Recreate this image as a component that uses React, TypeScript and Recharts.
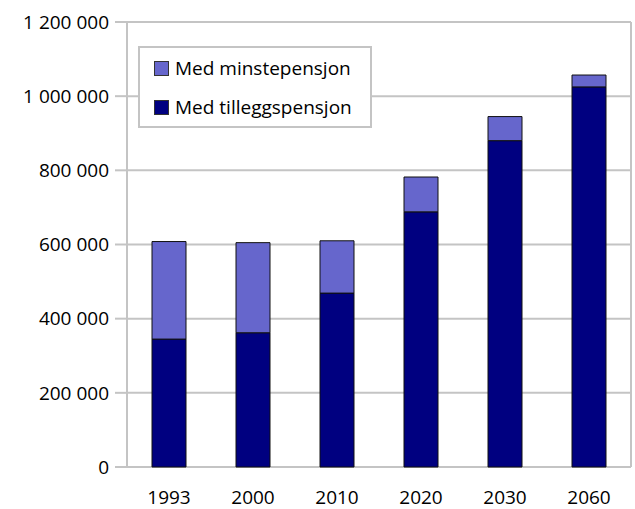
import React from 'react';
import { BarChart, Bar, XAxis, YAxis, CartesianGrid, Legend } from 'recharts';

const years = ['1993', '2000', '2010', '2020', '2030', '2060'];
const tilleggspensjon = [345000, 362000, 469000, 688000, 880000, 1025000];
const minstepensjon = [263000, 243000, 141000, 94000, 65000, 32000];
const yTicks = [0, 200000, 400000, 600000, 800000, 1000000, 1200000];
const boundaryTicks = [0, 1, 2, 3, 4, 5, 6];

const data = years.map((y, i) => ({
  year: y,
  tillegg: tilleggspensjon[i],
  minste: minstepensjon[i],
}));

const FONT = '"Open Sans", sans-serif';
const GRID = '#c4c4c4';

const fmt = (v: number) => String(v).replace(/\B(?=(\d{3})+(?!\d))/g, ' ');

const LegendBox = (props: any) => {
  const all = props.payload || [];
  const items = [
    ...all.filter((p: any) => p.dataKey === 'minste'),
    ...all.filter((p: any) => p.dataKey !== 'minste'),
  ];
  return (
    <div
      style={{
        width: 230,
        height: 78,
        border: `2px solid ${GRID}`,
        background: '#fff',
        fontFamily: FONT,
        fontSize: 19,
        color: '#000',
        position: 'relative',
      }}
    >
      {items.map((it: any, i: number) => (
        <div
          key={i}
          style={{
            position: 'absolute',
            left: 14,
            top: i === 0 ? 7 : 46,
            height: 26,
            display: 'flex',
            alignItems: 'center',
            whiteSpace: 'nowrap',
          }}
        >
          <span
            style={{
              display: 'inline-block',
              width: 13,
              height: 13,
              background: it.color,
              border: '1px solid #333',
              marginRight: 6,
            }}
          />
          <span>{it.value}</span>
        </div>
      ))}
    </div>
  );
};

export default function App() {
  return (
    <div style={{ position: 'absolute', left: 0, top: 0, background: '#fff' }}>
      <BarChart
        width={635}
        height={509}
        data={data}
        margin={{ top: 22, right: 4, bottom: 0, left: 0 }}
        barSize={34}
      >
        <CartesianGrid
          xAxisId="b"
          yAxisId="y"
          stroke={GRID}
          strokeWidth={2}
          horizontal={true}
          vertical={true}
        />
        <XAxis
          xAxisId="a"
          dataKey="year"
          type="category"
          axisLine={false}
          tickLine={false}
          tickSize={8}
          tickMargin={16}
          height={42}
          interval={0}
          tick={{ fontFamily: FONT, fontSize: 19, fill: '#000' }}
        />
        <XAxis
          xAxisId="b"
          type="number"
          domain={[0, 6]}
          ticks={boundaryTicks}
          allowDataOverflow
          height={0}
          tick={false}
          tickSize={8}
          tickLine={{ stroke: GRID, strokeWidth: 2 }}
          axisLine={{ stroke: GRID, strokeWidth: 2 }}
        />
        <YAxis
          yAxisId="y"
          width={127}
          domain={[0, 1200000]}
          ticks={yTicks}
          tickFormatter={fmt}
          tickSize={12}
          tickMargin={6}
          interval={0}
          tick={{ fontFamily: FONT, fontSize: 19, fill: '#000' }}
          tickLine={{ stroke: GRID, strokeWidth: 2 }}
          axisLine={{ stroke: GRID, strokeWidth: 2 }}
        />
        <Legend
          layout="horizontal"
          verticalAlign="middle"
          align="center"
          content={<LegendBox />}
          wrapperStyle={{ left: 138, top: 46, width: 234, height: 82 }}
        />
        <Bar
          xAxisId="a"
          yAxisId="y"
          dataKey="tillegg"
          name="Med tilleggspensjon"
          stackId="s"
          fill="#000080"
          stroke="#111"
          strokeWidth={1}
          isAnimationActive={false}
        />
        <Bar
          xAxisId="a"
          yAxisId="y"
          dataKey="minste"
          name="Med minstepensjon"
          stackId="s"
          fill="#6666cc"
          stroke="#111"
          strokeWidth={1}
          isAnimationActive={false}
        />
      </BarChart>
    </div>
  );
}
